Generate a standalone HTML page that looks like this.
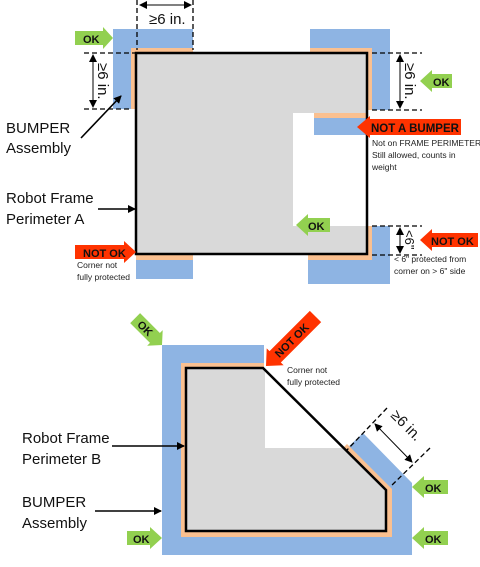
<!DOCTYPE html>
<html><head><meta charset="utf-8"><style>
html,body{margin:0;padding:0;background:#fff;}
svg{display:block;}
text{font-family:"Liberation Sans",sans-serif;}
.lbl{font-size:15px;fill:#111;}
.sm{font-size:8.5px;fill:#222;}
.ak{font-size:11px;font-weight:bold;fill:#111;}
.dim{font-size:15px;fill:#111;}
</style></head><body>
<svg width="480" height="567" viewBox="0 0 480 567" xmlns="http://www.w3.org/2000/svg">
<defs>
<marker id="ah" markerWidth="8" markerHeight="8" refX="7" refY="4" orient="auto" markerUnits="userSpaceOnUse"><path d="M0,0 L8,4 L0,8 z" fill="#000"/></marker>
<marker id="ah2" markerWidth="8" markerHeight="8" refX="1" refY="4" orient="auto" markerUnits="userSpaceOnUse"><path d="M8,0 L0,4 L8,8 z" fill="#000"/></marker>
</defs>

<!-- ===== TOP DIAGRAM ===== -->
<!-- frame fill -->
<rect x="136" y="53" width="231" height="201" fill="#d9d9d9"/>
<rect x="293" y="113" width="73" height="113" fill="#fff"/>

<!-- top-left bumper -->
<rect x="113" y="29" width="80" height="19" fill="#8eb4e3"/>
<rect x="113" y="29" width="18" height="80" fill="#8eb4e3"/>
<rect x="131" y="48" width="62" height="5" fill="#fac090"/>
<rect x="131" y="48" width="5" height="61" fill="#fac090"/>

<!-- top-right bumper -->
<rect x="310" y="29" width="80" height="19" fill="#8eb4e3"/>
<rect x="372" y="29" width="18" height="81" fill="#8eb4e3"/>
<rect x="310" y="48" width="62" height="5" fill="#fac090"/>
<rect x="367" y="48" width="5" height="62" fill="#fac090"/>

<!-- not a bumper -->
<rect x="314" y="113" width="52" height="5" fill="#fac090"/>
<rect x="314" y="118" width="52" height="17" fill="#8eb4e3"/>

<!-- bottom-right bumper -->
<rect x="372" y="226" width="18" height="58" fill="#8eb4e3"/>
<rect x="308" y="260" width="82" height="24" fill="#8eb4e3"/>
<rect x="367" y="226" width="5" height="34" fill="#fac090"/>
<rect x="308" y="254" width="64" height="6" fill="#fac090"/>

<!-- bottom-left -->
<rect x="136" y="254" width="57" height="6" fill="#fac090"/>
<rect x="136" y="260" width="57" height="19" fill="#8eb4e3"/>

<!-- frame outline -->
<rect x="136" y="53" width="231" height="201" fill="none" stroke="#000" stroke-width="2.5"/>

<!-- dims top -->
<line x1="137" y1="0" x2="137" y2="50" stroke="#000" stroke-width="1.3" stroke-dasharray="5,3"/>
<line x1="193" y1="0" x2="193" y2="50" stroke="#000" stroke-width="1.3" stroke-dasharray="5,3"/>
<line x1="140" y1="5" x2="191" y2="5" stroke="#000" stroke-width="1" marker-end="url(#ah)" marker-start="url(#ah2)"/>
<text x="149" y="24" class="dim">≥6 in.</text>

<line x1="84" y1="53" x2="136" y2="53" stroke="#000" stroke-width="1.3" stroke-dasharray="5,3"/>
<line x1="84" y1="109" x2="131" y2="109" stroke="#000" stroke-width="1.3" stroke-dasharray="5,3"/>
<line x1="93" y1="55" x2="93" y2="107" stroke="#000" stroke-width="1" marker-end="url(#ah)" marker-start="url(#ah2)"/>
<text class="dim" transform="translate(98,63) rotate(90)">≥6 in.</text>

<line x1="372" y1="53" x2="422" y2="53" stroke="#000" stroke-width="1.3" stroke-dasharray="5,3"/>
<line x1="372" y1="110" x2="422" y2="110" stroke="#000" stroke-width="1.3" stroke-dasharray="5,3"/>
<line x1="400" y1="55" x2="400" y2="108" stroke="#000" stroke-width="1" marker-end="url(#ah)" marker-start="url(#ah2)"/>
<text class="dim" transform="translate(405,63) rotate(90)">≥6 in.</text>

<line x1="372" y1="226" x2="422" y2="226" stroke="#000" stroke-width="1.3" stroke-dasharray="5,3"/>
<line x1="372" y1="255" x2="422" y2="255" stroke="#000" stroke-width="1.3" stroke-dasharray="5,3"/>
<line x1="400" y1="228" x2="400" y2="253" stroke="#000" stroke-width="1" marker-end="url(#ah)" marker-start="url(#ah2)"/>
<text class="dim" transform="translate(405,230) rotate(90)" style="font-size:13px">&lt;6"</text>

<!-- arrows top -->
<polygon points="75,31 103,31 103,27 113,38 103,49 103,45 75,45" fill="#92d050"/>
<text x="83" y="43" class="ak">OK</text>
<polygon points="75,245 124,245 124,241 136,252 124,263 124,259 75,259" fill="#ff3300"/>
<text x="83" y="257" class="ak">NOT OK</text>
<polygon points="420,81 432,70 432,74 452,74 452,88 432,88 432,92" fill="#92d050"/>
<text x="433" y="86" class="ak">OK</text>
<polygon points="357,127 370,116 370,119 461,119 461,135 370,135 370,138" fill="#ff3300"/>
<text x="371" y="132" class="ak" style="font-size:11.5px">NOT A BUMPER</text>
<polygon points="296,225 308,214 308,218 330,218 330,232 308,232 308,236" fill="#92d050"/>
<text x="308" y="230" class="ak">OK</text>
<polygon points="420,240 432,229 432,233 478,233 478,247 432,247 432,251" fill="#ff3300"/>
<text x="431" y="245" class="ak">NOT OK</text>

<text x="372" y="146" class="sm">Not on FRAME PERIMETER.</text>
<text x="372" y="158" class="sm">Still allowed, counts in</text>
<text x="372" y="170" class="sm">weight</text>
<text x="394" y="262" class="sm">&lt; 6" protected from</text>
<text x="394" y="274" class="sm">corner on &gt; 6" side</text>
<text x="77" y="268" class="sm">Corner not</text>
<text x="77" y="280" class="sm">fully protected</text>

<text x="6" y="133" class="lbl">BUMPER</text>
<text x="6" y="153" class="lbl">Assembly</text>
<line x1="81" y1="138" x2="121" y2="96" stroke="#000" stroke-width="1.6" marker-end="url(#ah)"/>
<text x="6" y="203" class="lbl">Robot Frame</text>
<text x="6" y="224" class="lbl">Perimeter A</text>
<line x1="98" y1="209" x2="135" y2="209" stroke="#000" stroke-width="1.6" marker-end="url(#ah)"/>

<!-- ===== BOTTOM DIAGRAM ===== -->
<polygon points="162,345 264,345 264,448 347,448 363,433 412,483 412,555 162,555" fill="#8eb4e3"/>
<polygon points="181,363 264,363 264,448 343,448 347,444 392,489 392,537 181,537" fill="#fac090"/>
<polygon points="186,368 265,368 265,448 343,448 386,490 386,531 186,531" fill="#d9d9d9"/>
<polygon points="186,368 263,368 386,490 386,531 186,531" fill="none" stroke="#000" stroke-width="2.5" stroke-linejoin="miter"/>

<line x1="387" y1="408" x2="347" y2="450" stroke="#000" stroke-width="1.3" stroke-dasharray="5,3"/>
<line x1="430" y1="448" x2="390" y2="487" stroke="#000" stroke-width="1.3" stroke-dasharray="5,3"/>
<line x1="375" y1="424" x2="412" y2="462" stroke="#000" stroke-width="1" marker-end="url(#ah)" marker-start="url(#ah2)"/>
<text class="dim" transform="translate(390,416) rotate(45)">≥6 in.</text>

<!-- rotated arrows -->
<g transform="translate(162,345) rotate(45)">
<polygon points="0,0 -10,-11 -10,-7 -38,-7 -38,7 -10,7 -10,11" fill="#92d050"/>
<text x="-32" y="4" class="ak">OK</text>
</g>
<g transform="translate(266,366) rotate(-45)">
<polygon points="0,0 13,-12 13,-8 70,-8 70,8 13,8 13,12" fill="#ff3300"/>
<text x="15" y="4" class="ak">NOT OK</text>
</g>
<text x="287" y="373" class="sm">Corner not</text>
<text x="287" y="385" class="sm">fully protected</text>

<polygon points="412,487 424,476 424,480 448,480 448,494 424,494 424,498" fill="#92d050"/>
<text x="425" y="492" class="ak">OK</text>
<polygon points="412,538 424,527 424,531 448,531 448,545 424,545 424,549" fill="#92d050"/>
<text x="425" y="543" class="ak">OK</text>
<polygon points="127,531 150,531 150,527 162,538 150,549 150,545 127,545" fill="#92d050"/>
<text x="133" y="543" class="ak">OK</text>

<text x="22" y="443" class="lbl">Robot Frame</text>
<text x="22" y="464" class="lbl">Perimeter B</text>
<line x1="112" y1="446" x2="184" y2="446" stroke="#000" stroke-width="1.6" marker-end="url(#ah)"/>
<text x="22" y="507" class="lbl">BUMPER</text>
<text x="22" y="528" class="lbl">Assembly</text>
<line x1="95" y1="511" x2="161" y2="511" stroke="#000" stroke-width="1.6" marker-end="url(#ah)"/>
</svg>
</body></html>
